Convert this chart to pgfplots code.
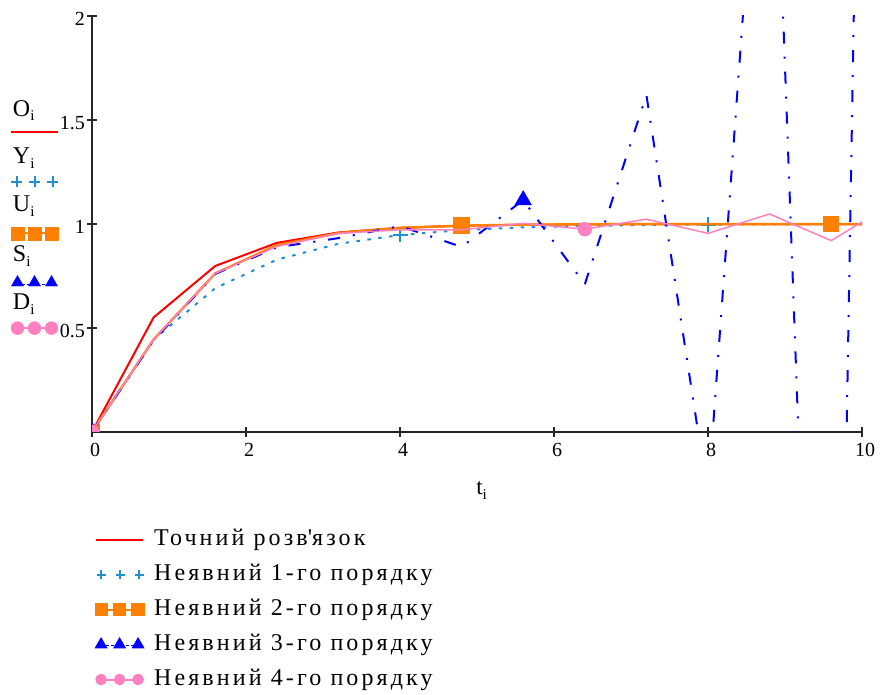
\documentclass[border=0pt]{standalone}
\usepackage{pgfplots}
\pgfplotsset{compat=1.18}
\usepackage{pgfplotstable}
\usepackage{fontspec}
\setmainfont{Liberation Serif}

\definecolor{exact}{RGB}{255,0,0}
\definecolor{ord1}{RGB}{32,144,208}
\definecolor{ord2}{RGB}{255,128,0}
\definecolor{ord3}{RGB}{0,0,255}
\definecolor{ord4}{RGB}{255,128,192}

% step h = 0.8: exact solution and the four implicit schemes
\pgfplotstableread{
t     O       Y       U       S       D
0.0   0.0000  0.0000  0.0000  0.000   0.000
0.8   0.5507  0.4444  0.4444  0.440   0.444
1.6   0.7981  0.6914  0.7619  0.760   0.762
2.4   0.9093  0.8285  0.8980  0.888   0.892
3.2   0.9592  0.9047  0.9563  0.932   0.955
4.0   0.9817  0.9471  0.9813  0.990   0.972
4.8   0.9918  0.9706  0.9920  0.890   0.972
5.6   0.9963  0.9837  0.9966  1.115   1.003
6.4   0.9983  0.9909  0.9985  0.710   0.975
7.2   0.9993  0.9950  0.9994  1.620   1.023
8.0   0.9997  0.9972  0.9997  -0.310  0.955
8.8   0.9998  0.9985  0.9999  3.770   1.048
9.6   0.9999  0.9991  0.9999  -4.300  0.920
10.4  1.0000  0.9995  1.0000  12.900  1.100
}\solution

\newcommand{\sub}[1]{\raisebox{-0.45ex}{\fontsize{15}{15}\selectfont #1}}
\newcommand{\lfont}{\fontsize{24}{27}\selectfont\addfontfeature{LetterSpace=13}}
\newcommand{\kfont}{\fontsize{24}{27}\selectfont\addfontfeature{LetterSpace=6}}

\begin{document}
\begin{tikzpicture}
\useasboundingbox (0pt,0pt) rectangle (881pt,-695pt);

\begin{axis}[
  at={(92pt,-432pt)}, anchor=south west,
  scale only axis, width=770pt, height=416pt,
  xmin=0, xmax=10, ymin=0, ymax=2,
  axis x line*=bottom, axis y line*=left,
  axis line style={line width=1.8pt, black!85},
  xtick={0,2,...,10}, ytick={0.5,1,1.5,2},
  tick align=center, major tick length=10pt,
  tick style={line width=1.5pt, black!85},
  clip marker paths=true,
  /pgf/number format/assume math mode=true,
  tick label style={font=\fontsize{20}{24}\selectfont},
  xticklabel style={anchor=north, xshift=3pt, yshift=-6pt, inner sep=0pt},
  yticklabel style={anchor=east, xshift=-2pt, yshift=-3pt, inner sep=0pt},
  xlabel={t\sub{i}},
  xlabel style={at={(axis description cs:0.506,-0.14)}, anchor=center,
    font=\fontsize{23}{26}\selectfont},
  legend style={at={(axis description cs:0.004,-0.232)}, anchor=north west,
    draw=none, fill=none, inner sep=0pt, outer sep=0pt,
    font=\lfont, row sep=13pt, column sep=10pt,
    nodes={inner sep=0pt, text height=17pt, text depth=5pt}},
  legend cell align=left,
]
\addplot[exact, line width=2pt,
  legend image code/.code={
    \draw[exact, solid, line width=2pt] (0pt,0pt) -- (47pt,0pt);
    \path[draw=none, fill=none] (0pt,-5pt) rectangle (48pt,5pt);}]
  table[x=t, y=O] {\solution};
\addlegendentry{Точний розв\textquotesingle язок}

\addplot[ord1, line width=2pt, dash pattern=on 3.5pt off 7.5pt,
  mark=+, mark size=7.5pt, mark repeat=5, mark options={solid, line width=2pt},
  legend image code/.code={
    \draw[ord1, solid, line width=2pt] plot[only marks, mark repeat=1, mark=+, mark size=4.5pt]
      coordinates {(5pt,0pt) (24pt,0pt) (43pt,0pt)};
    \path[draw=none, fill=none] (0pt,-5pt) rectangle (48pt,5pt);}]
  table[x=t, y=Y] {\solution};
\addlegendentry{Неявний 1-го порядку}

\addplot[ord2, line width=2.5pt, mark=square*, mark size=7pt, mark repeat=6,
  mark options={solid},
  legend image code/.code={
    \draw[ord2, solid, line width=2pt] (5pt,0pt) -- (42pt,0pt);
    \draw[ord2, solid] plot[only marks, mark repeat=1, mark=square*, mark size=5.5pt]
      coordinates {(5.5pt,0pt) (23.5pt,0pt) (42pt,0pt)};
    \path[draw=none, fill=none] (0pt,-5pt) rectangle (48pt,5pt);}]
  table[x=t, y=U] {\solution};
\addlegendentry{Неявний 2-го порядку}

\addplot[ord3, line width=2pt, dash pattern=on 12pt off 13pt on 2pt off 13pt,
  mark=triangle*, mark size=8pt, mark repeat=7, mark options={solid},
  legend image code/.code={
    \draw[ord3, line width=1.5pt, dash pattern=on 3pt off 2pt] (5pt,-1pt) -- (42pt,-1pt);
    \draw[ord3, solid] plot[only marks, mark repeat=1, mark=triangle*, mark size=5.5pt]
      coordinates {(5pt,0pt) (23.5pt,0pt) (42pt,0pt)};
    \path[draw=none, fill=none] (0pt,-5pt) rectangle (48pt,5pt);}]
  table[x=t, y=S] {\solution};
\addlegendentry{Неявний 3-го порядку}

\addplot[ord4, line width=1.5pt, mark=*, mark size=6.5pt, mark repeat=8,
  mark options={solid, draw=ord4, fill=ord4},
  legend image code/.code={
    \draw[ord4, solid, line width=2pt] (5pt,0pt) -- (42pt,0pt);
    \draw[ord4, solid, fill=ord4] plot[only marks, mark repeat=1, mark=*, mark size=5pt]
      coordinates {(5pt,0pt) (23.5pt,0pt) (42pt,0pt)};
    \path[draw=none, fill=none] (0pt,-5pt) rectangle (48pt,5pt);}]
  table[x=t, y=D] {\solution};
\addlegendentry{Неявний 4-го порядку}
\end{axis}

% key with the series names at the left of the plot
\begin{axis}[
  at={(92pt,-432pt)}, anchor=south west,
  scale only axis, width=770pt, height=416pt,
  hide axis, xmin=0, xmax=1, ymin=0, ymax=1,
  legend style={at={(axis description cs:-0.1065,0.812)}, anchor=north west,
    draw=none, fill=none, inner sep=0pt, outer sep=0pt, row sep=0pt,
    column sep=0pt, nodes={inner sep=0pt}},
]
\addlegendimage{legend image code/.code={
  \node[anchor=base west, inner sep=0pt, font=\kfont] at (2pt,2pt) {O\sub{i}};
  \draw[exact, solid, line width=2pt] (0pt,-14pt) -- (47pt,-14pt);
  \path[draw=none, fill=none] (0pt,-23.8pt) rectangle (47pt,23.8pt);}}
\addlegendentry{\null}
\addlegendimage{legend image code/.code={
  \node[anchor=base west, inner sep=0pt, font=\kfont] at (2pt,2pt) {Y\sub{i}};
  \draw[ord1, solid, line width=2pt] plot[only marks, mark repeat=1, mark=+, mark size=5.5pt]
    coordinates {(6pt,-16pt) (24pt,-16pt) (42pt,-16pt)};
  \path[draw=none, fill=none] (0pt,-23.8pt) rectangle (47pt,23.8pt);}}
\addlegendentry{\null}
\addlegendimage{legend image code/.code={
  \node[anchor=base west, inner sep=0pt, font=\kfont] at (2pt,2pt) {U\sub{i}};
  \draw[ord2, solid, line width=2pt] (6pt,-20pt) -- (40pt,-20pt);
  \draw[ord2, solid] plot[only marks, mark repeat=1, mark=square*, mark size=6.5pt]
    coordinates {(6.5pt,-20pt) (23.5pt,-20pt) (40.5pt,-20pt)};
  \path[draw=none, fill=none] (0pt,-23.8pt) rectangle (47pt,23.8pt);}}
\addlegendentry{\null}
\addlegendimage{legend image code/.code={
  \node[anchor=base west, inner sep=0pt, font=\kfont] at (2pt,2pt) {S\sub{i}};
  \draw[ord3, line width=1.5pt, dash pattern=on 3pt off 2pt] (6pt,-21pt) -- (40pt,-21pt);
  \draw[ord3, solid] plot[only marks, mark repeat=1, mark=triangle*, mark size=7pt]
    coordinates {(6.5pt,-19pt) (23.5pt,-19pt) (40.5pt,-19pt)};
  \path[draw=none, fill=none] (0pt,-23.8pt) rectangle (47pt,23.8pt);}}
\addlegendentry{\null}
\addlegendimage{legend image code/.code={
  \node[anchor=base west, inner sep=0pt, font=\kfont] at (2pt,2pt) {D\sub{i}};
  \draw[ord4, solid, line width=2pt] (6pt,-17pt) -- (40pt,-17pt);
  \draw[ord4, solid, fill=ord4] plot[only marks, mark repeat=1, mark=*, mark size=6.5pt]
    coordinates {(6.5pt,-17pt) (23.5pt,-17pt) (40.5pt,-17pt)};
  \path[draw=none, fill=none] (0pt,-23.8pt) rectangle (47pt,23.8pt);}}
\addlegendentry{\null}
\end{axis}
\end{tikzpicture}
\end{document}
